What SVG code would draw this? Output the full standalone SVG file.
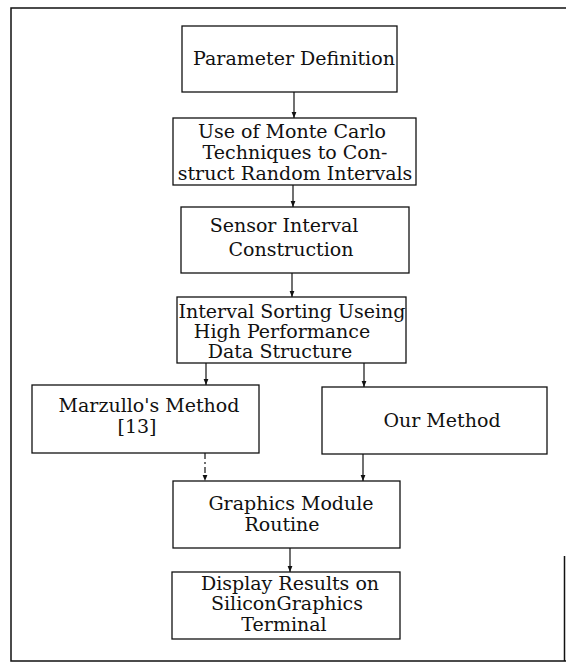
<svg xmlns="http://www.w3.org/2000/svg" width="566" height="664" viewBox="0 0 566 664">
<style>
.box{fill:#fff;stroke:#111;stroke-width:1.3}
.frame{fill:none;stroke:#111;stroke-width:1.5}
.t{font-family:"DejaVu Serif","Liberation Serif",serif;font-size:19px;fill:#111;text-anchor:middle}
.c{stroke:#111;stroke-width:1.2;fill:none}
.d{stroke-dasharray:6 3 2 3}
</style>
<defs>
<marker id="ah" viewBox="0 0 6 6" refX="6" refY="3" markerWidth="6" markerHeight="6" markerUnits="userSpaceOnUse" orient="auto">
<path d="M0,0.6 L6,3 L0,5.4 Z" fill="#111"/>
</marker>
</defs>
<rect width="566" height="664" fill="#fff"/>
<path class="frame" d="M566,8 H11 V661 H566 M564.5,556 V661"/>
<g id="connectors">
<line class="c" x1="294" y1="92" x2="294" y2="118" marker-end="url(#ah)"/>
<line class="c" x1="293" y1="185" x2="293" y2="207" marker-end="url(#ah)"/>
<line class="c" x1="292" y1="273" x2="292" y2="297" marker-end="url(#ah)"/>
<line class="c" x1="206" y1="363" x2="206" y2="385" marker-end="url(#ah)"/>
<line class="c" x1="364" y1="363" x2="364" y2="387" marker-end="url(#ah)"/>
<line class="c d" x1="205" y1="453" x2="205" y2="481" marker-end="url(#ah)"/>
<line class="c" x1="363" y1="454" x2="363" y2="481" marker-end="url(#ah)"/>
<line class="c" x1="290" y1="548" x2="290" y2="572" marker-end="url(#ah)"/>
</g>
<g id="n1">
<rect class="box" x="182" y="26" width="215" height="66"/>
<text class="t" x="294" y="65">Parameter Definition</text>
</g>
<g id="n2">
<rect class="box" x="173" y="118" width="243" height="67"/>
<text class="t" x="292" y="138">Use of Monte Carlo</text>
<text class="t" x="295" y="159">Techniques to Con-</text>
<text class="t" x="295" y="180">struct Random Intervals</text>
</g>
<g id="n3">
<rect class="box" x="181" y="207" width="228" height="66"/>
<text class="t" x="284" y="232">Sensor Interval</text>
<text class="t" x="291" y="256">Construction</text>
</g>
<g id="n4">
<rect class="box" x="177" y="297" width="229" height="66"/>
<text class="t" x="292" y="318">Interval Sorting Useing</text>
<text class="t" x="282" y="338">High Performance</text>
<text class="t" x="280" y="358">Data Structure</text>
</g>
<g id="n5">
<rect class="box" x="32" y="385" width="227" height="68"/>
<text class="t" x="149" y="412">Marzullo's Method</text>
<text class="t" x="137" y="433">[13]</text>
</g>
<g id="n6">
<rect class="box" x="322" y="387" width="225" height="67"/>
<text class="t" x="442" y="427">Our Method</text>
</g>
<g id="n7">
<rect class="box" x="173" y="481" width="227" height="67"/>
<text class="t" x="291" y="510">Graphics Module</text>
<text class="t" x="282" y="531">Routine</text>
</g>
<g id="n8">
<rect class="box" x="172" y="572" width="228" height="67"/>
<text class="t" x="290" y="590">Display Results on</text>
<text class="t" x="287" y="610">SiliconGraphics</text>
<text class="t" x="284" y="631">Terminal</text>
</g>
</svg>
